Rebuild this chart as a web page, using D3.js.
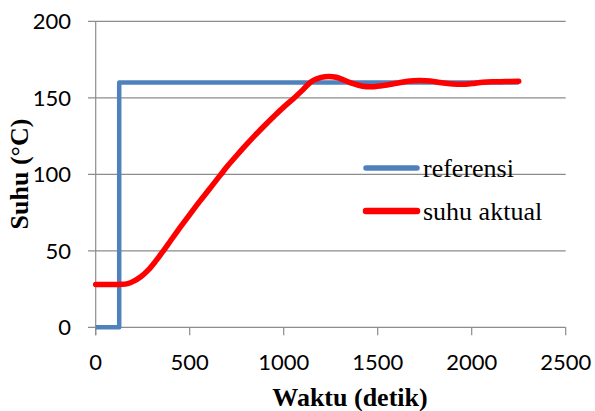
<!DOCTYPE html>
<html><head><meta charset="utf-8">
<script src="https://cdn.jsdelivr.net/npm/d3@7"></script>
<style>body{margin:0;background:#fff;}svg{display:block;}</style>
</head><body>
<svg id="c" width="595" height="411"></svg>
<script>
const xTicks = [0, 500, 1000, 1500, 2000, 2500];
const yTicks = [0, 50, 100, 150, 200];
const seriesNames = ["referensi", "suhu aktual"];
const refTime = [0, 125, 125, 2250];
const refValue = [0, 0, 160, 160];
const actTime = [0,100,140,170,200,240,280,320,360,400,450,500,550,600,665,700,750,800,850,900,950,1000,1060,1100,1130,1160,1200,1240,1280,1320,1370,1420,1480,1530,1600,1660,1720,1780,1840,1900,1950,2000,2060,2120,2180,2250];
const actValue = [28,28,28.1,28.6,30,33,37.5,43.4,50,56.9,65.4,73.7,81.8,89.6,99.8,105.2,112.3,119.2,125.8,132.1,138.1,143.9,150.4,155,158.8,161.5,163.4,164,163.4,161.6,159.2,157.6,157.3,158,159.5,160.8,161.3,161,159.8,159,158.8,159.3,160.2,160.5,160.6,160.8];

const svg = d3.select("#c");
const x = d3.scaleLinear().domain([0, 2500]).range([95.7, 565.7]);
const y = d3.scaleLinear().domain([0, 200]).range([327.3, 21.3]);
const grid = "#8c8c8c";

svg.append("g").selectAll("line").data(yTicks).join("line")
  .attr("x1", 88).attr("x2", x(2500))
  .attr("y1", d => y(d)).attr("y2", d => y(d))
  .attr("stroke", grid).attr("stroke-width", 1.2);
svg.append("line").attr("x1", x(0)).attr("x2", x(0)).attr("y1", y(200)).attr("y2", y(0) + 8)
  .attr("stroke", grid).attr("stroke-width", 1.2);
svg.append("g").selectAll("line").data(xTicks).join("line")
  .attr("x1", d => x(d)).attr("x2", d => x(d)).attr("y1", y(0)).attr("y2", y(0) + 8)
  .attr("stroke", grid).attr("stroke-width", 1.2);

svg.append("g").selectAll("text").data(yTicks).join("text")
  .attr("x", 71).attr("y", d => y(d) + 8).attr("text-anchor", "end")
  .style("font-family", "Lato, 'Open Sans', sans-serif").style("font-size", "22px").attr("fill", "#000")
  .text(d => d);
svg.append("g").selectAll("text").data(xTicks).join("text")
  .attr("x", d => x(d)).attr("y", 370).attr("text-anchor", "middle")
  .style("font-family", "Lato, 'Open Sans', sans-serif").style("font-size", "22px").attr("fill", "#000")
  .text(d => d);

const line = d3.line().x(d => x(d[0])).y(d => y(d[1]));
svg.append("path").datum(refTime.map((t, i) => [t, refValue[i]]))
  .attr("d", line).attr("fill", "none").attr("stroke", "#4F81BD").attr("stroke-width", 4.5)
  .attr("stroke-linejoin", "round");
const smooth = d3.line().x(d => x(d[0])).y(d => y(d[1])).curve(d3.curveCatmullRom.alpha(0.5));
svg.append("path").datum(actTime.map((t, i) => [t, actValue[i]]))
  .attr("d", smooth).attr("fill", "none").attr("stroke", "#FF0000").attr("stroke-width", 5.5)
  .attr("stroke-linejoin", "round").attr("stroke-linecap", "round");

const colors = ["#4F81BD", "#FF0000"];
const lg = svg.append("g");
seriesNames.forEach((n, i) => {
  const ly = 168 + i * 43;
  lg.append("line").attr("x1", 366).attr("x2", 417).attr("y1", ly).attr("y2", ly)
    .attr("stroke", colors[i]).attr("stroke-width", i ? 6.5 : 5.5).attr("stroke-linecap", "round");
  lg.append("text").attr("x", 423).attr("y", ly + 9)
    .style("font-family", "'Liberation Serif', 'Times New Roman', serif").style("font-size", "26px")
    .attr("fill", "#000").text(n);
});

svg.append("text").attr("x", 350).attr("y", 406).attr("text-anchor", "middle")
  .style("font-family", "'Liberation Serif', 'Times New Roman', serif").style("font-size", "26px").style("font-weight", "bold")
  .text("Waktu (detik)");
svg.append("text").attr("transform", "translate(28,174) rotate(-90)").attr("text-anchor", "middle")
  .style("font-family", "'Liberation Serif', 'Times New Roman', serif").style("font-size", "26px").style("font-weight", "bold")
  .text("Suhu (°C)");
</script>
</body></html>
